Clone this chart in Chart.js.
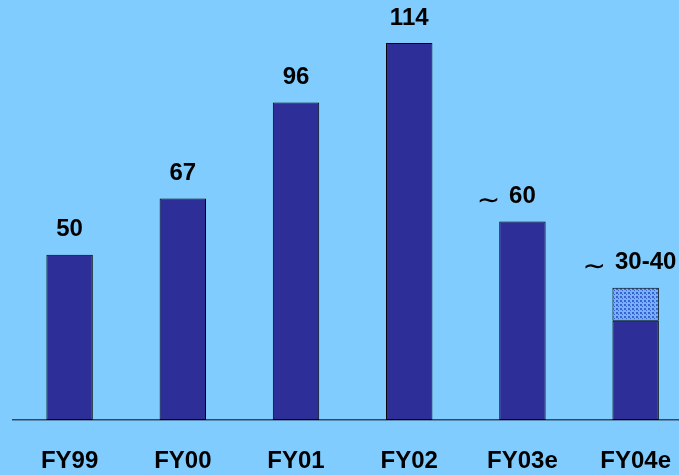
<!DOCTYPE html>
<html>
<head>
<meta charset="utf-8">
<script src="https://cdn.jsdelivr.net/npm/chart.js@4/dist/chart.umd.min.js"></script>
<style>
  html, body { margin: 0; padding: 0; background: #80ccff; overflow: hidden; }
  canvas { display: block; }
</style>
</head>
<body>
<canvas id="myChart" width="698" height="475"></canvas>
<script>
var years = ["FY99", "FY00", "FY01", "FY02", "FY03e", "FY04e"];
var solidValues = [50, 67, 96, 114, 60, 30];
var rangeValues = [0, 0, 0, 0, 0, 10];
var valueText = ["50", "67", "96", "114", "60", "30-40"];
var approx = [false, false, false, false, true, true];

// dotted fill for the uncertain part of FY04e
function dotPattern() {
  var c = document.createElement("canvas");
  c.width = 4; c.height = 4;
  var g = c.getContext("2d");
  g.fillStyle = "#74b4f4";
  g.fillRect(0, 0, 4, 4);
  g.fillStyle = "#3a5fd0";
  g.fillRect(0, 0, 2, 2);
  g.fillRect(2, 2, 1, 1);
  return g.createPattern(c, "repeat");
}

var valueLabels = {
  id: "valueLabels",
  afterDatasetsDraw: function (chart) {
    var ctx = chart.ctx;
    var xs = chart.scales.x, ys = chart.scales.y;
    ctx.save();
    ctx.fillStyle = "#000";
    ctx.textBaseline = "middle";
    for (let i = 0; i < years.length; i++) {
      var top = ys.getPixelForValue(solidValues[i] + rangeValues[i]);
      var x = xs.getPixelForValue(i);
      var y = top - 25;
      ctx.font = "bold 24px 'Liberation Sans', Arial, sans-serif";
      var w = ctx.measureText(valueText[i]).width;
      // the wide last label sits a little right of its bar on the slide
      if (approx[i] && w > 40) x += 10;
      ctx.textAlign = "center";
      ctx.fillText(valueText[i], x, y);
      if (approx[i]) {
        ctx.font = "28px 'DejaVu Sans', sans-serif";
        ctx.textAlign = "right";
        ctx.fillText("\u223C", x - w / 2 - 9, y + 5);
      }
    }
    ctx.restore();
  }
};

var myChart = new Chart("myChart", {
  type: "bar",
  data: {
    labels: years,
    datasets: [{
      data: solidValues,
      backgroundColor: "#2e2e98",
      borderColor: "#000",
      borderWidth: 1,
      borderSkipped: false,
      barPercentage: 0.41,
      categoryPercentage: 1
    }, {
      data: rangeValues,
      backgroundColor: dotPattern(),
      borderColor: "#000",
      borderWidth: 1,
      borderSkipped: false,
      barPercentage: 0.41,
      categoryPercentage: 1
    }]
  },
  options: {
    responsive: false,
    animation: false,
    layout: { padding: { left: 13, right: 0, top: 0, bottom: 0 } },
    plugins: {
      legend: { display: false },
      tooltip: { enabled: false }
    },
    scales: {
      x: {
        stacked: true,
        grid: { display: false, drawTicks: false },
        border: { display: true, color: "#34495e", width: 1.5 },
        ticks: {
          color: "#000",
          padding: 27,
          font: { family: "'Liberation Sans', Arial, sans-serif", size: 24, weight: "bold" }
        },
        afterFit: function (scale) { scale.height = 55; }
      },
      y: {
        stacked: true,
        display: false,
        min: 0,
        max: 127
      }
    }
  },
  plugins: [valueLabels]
});
</script>
</body>
</html>
